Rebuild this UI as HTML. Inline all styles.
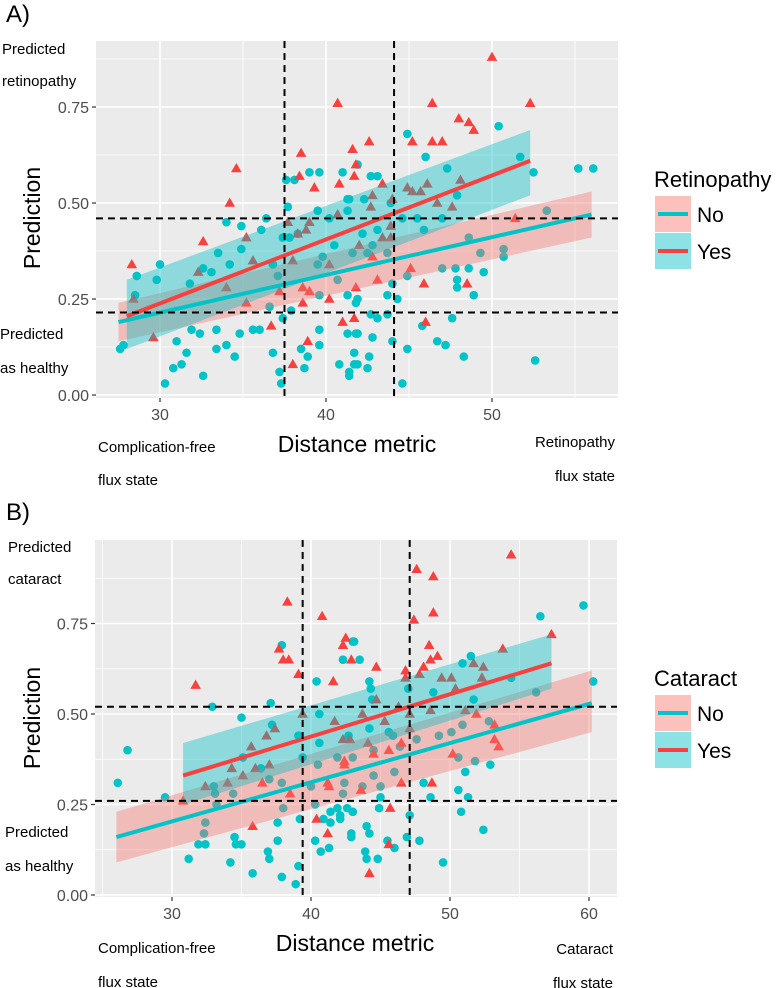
<!DOCTYPE html>
<html><head><meta charset="utf-8"><style>
html,body{margin:0;padding:0;background:#fff;}
svg{display:block;font-family:"Liberation Sans",sans-serif;}
</style></head><body>
<svg id="chart" width="779" height="988" viewBox="0 0 779 988"></svg>
<script>
// ---------- Panel A data (Retinopathy) ----------
const aNoX=[27.6,27.8,28.6,28.5,30.0,29.8,30.3,30.8,31.0,31.3,31.6,31.8,31.9,32.4,32.6,32.6,33.1,33.5,33.4,33.4,34.0,34.0,34.2,34.5,34.8,34.9,34.9,35.6,36.0,36.1,36.4,36.8,36.6,36.8,37.1,37.2,37.3,37.4,37.6,37.7,37.4,37.8,37.9,38.1,38.3,38.5,38.7,38.9,39.0,39.6,39.5,39.5,39.6,39.6,39.6,39.8,40.2,40.5,40.7,40.8,41.0,41.3,41.4,41.7,41.9,41.9,41.6,41.4,41.3,41.9,42.3,42.7,43.1,42.2,42.5,42.8,43.1,43.7,43.9,41.3,41.8,41.3,41.8,42.8,42.7,43.1,43.7,43.7,41.7,41.9,42.5,42.6,41.4,44.0,44.3,44.0,44.6,44.9,44.9,44.6,44.9,45.5,45.9,46.0,45.8,46.7,47.2,47.0,47.0,47.3,47.6,47.8,47.9,47.9,47.9,48.3,48.6,48.6,48.9,49.3,49.5,50.4,50.7,50.7,51.7,52.5,52.6,53.3,55.2,56.1];
const aNoY=[0.12,0.13,0.31,0.26,0.34,0.30,0.03,0.07,0.14,0.08,0.11,0.29,0.17,0.16,0.33,0.05,0.32,0.37,0.17,0.12,0.45,0.13,0.34,0.10,0.16,0.44,0.38,0.17,0.17,0.43,0.46,0.34,0.23,0.11,0.31,0.06,0.03,0.20,0.56,0.49,0.41,0.41,0.22,0.56,0.42,0.12,0.07,0.10,0.58,0.58,0.48,0.34,0.26,0.17,0.13,0.36,0.46,0.39,0.30,0.08,0.58,0.51,0.05,0.08,0.16,0.25,0.37,0.51,0.48,0.60,0.51,0.57,0.57,0.42,0.37,0.39,0.43,0.37,0.50,0.26,0.24,0.16,0.16,0.15,0.21,0.20,0.26,0.21,0.11,0.08,0.07,0.10,0.06,0.14,0.25,0.29,0.03,0.12,0.31,0.46,0.68,0.46,0.43,0.62,0.18,0.14,0.13,0.33,0.46,0.59,0.20,0.33,0.30,0.28,0.52,0.10,0.33,0.41,0.26,0.37,0.32,0.70,0.38,0.36,0.62,0.58,0.09,0.48,0.59,0.59];
const aYesX=[28.3,28.4,29.6,32.3,32.6,34.0,34.2,34.6,35.2,35.2,35.6,36.7,37.2,37.7,38.0,38.0,38.4,38.5,38.3,38.6,38.6,38.8,39.0,38.9,39.0,39.3,40.2,40.2,40.7,40.8,40.7,41.6,41.7,41.0,41.8,41.7,42.6,42.8,42.7,43.4,42.0,42.8,43.4,43.9,43.9,44.0,43.1,41.8,44.9,45.2,45.2,45.7,46.1,45.9,46.0,46.4,46.4,47.0,45.1,46.7,47.6,48.0,48.1,48.6,48.9,48.5,50.0,51.4,52.3];
const aYesY=[0.34,0.25,0.15,0.32,0.40,0.28,0.50,0.59,0.24,0.41,0.35,0.18,0.27,0.45,0.08,0.35,0.57,0.63,0.42,0.24,0.28,0.43,0.45,0.14,0.27,0.54,0.25,0.34,0.76,0.55,0.47,0.64,0.20,0.19,0.60,0.57,0.66,0.52,0.49,0.55,0.39,0.36,0.41,0.41,0.44,0.51,0.30,0.28,0.54,0.66,0.53,0.53,0.55,0.29,0.19,0.76,0.66,0.66,0.33,0.50,0.49,0.72,0.56,0.71,0.69,0.29,0.88,0.46,0.76];
// fitted lines [xStart,xEnd], [yStart,yEnd], ribbon lows/highs
const aNoFitX=[27.5,56.0], aNoFitY=[0.19,0.47], aNoLo=[0.14,0.41], aNoHi=[0.24,0.53];
const aYesFitX=[28.0,52.3], aYesFitY=[0.205,0.61], aYesLo=[0.12,0.52], aYesHi=[0.30,0.69];
const aVLines=[37.5,44.1], aHLines=[0.46,0.215];
const aXTicks=[30,40,50], aXMinor=[35,45,55], aYTicks=[0,0.25,0.5,0.75], aYMinor=[0.125,0.375,0.625,0.875];
const aYTickLabels=["0.00","0.25","0.50","0.75"];

// ---------- Panel B data (Cataract) ----------
const bNoX=[26.1,26.8,29.5,31.2,31.9,32.4,32.3,32.4,33.0,33.1,32.9,33.2,34.2,34.4,34.5,34.6,35.0,35.0,35.1,35.8,36.4,36.9,37.0,37.0,37.1,37.2,37.6,37.6,37.9,37.9,38.0,37.9,38.9,39.1,39.2,39.1,39.4,40.0,40.3,40.3,40.4,40.6,40.6,40.5,40.7,40.9,41.3,41.4,41.4,41.9,41.9,42.1,42.3,42.3,42.4,42.6,42.7,42.9,43.0,43.0,43.1,43.5,44.2,44.3,44.4,44.2,43.0,44.5,45.6,45.9,46.4,44.5,45.0,45.0,44.9,46.0,43.7,43.0,42.1,42.9,44.0,44.2,43.9,44.0,44.8,45.5,46.0,46.9,47.1,47.8,47.0,47.6,48.1,48.6,48.8,49.5,50.6,50.6,50.8,51.1,51.3,50.9,51.5,51.7,51.8,52.4,52.9,54.4,56.2,56.5,59.6,60.3,49.2,50.1,50.9,52.8];
const bNoY=[0.31,0.40,0.27,0.10,0.14,0.14,0.17,0.20,0.30,0.28,0.52,0.25,0.09,0.28,0.16,0.14,0.14,0.49,0.38,0.06,0.35,0.12,0.10,0.32,0.53,0.47,0.20,0.15,0.05,0.69,0.24,0.31,0.03,0.08,0.21,0.44,0.38,0.30,0.25,0.15,0.59,0.50,0.42,0.36,0.12,0.21,0.13,0.23,0.20,0.24,0.38,0.21,0.28,0.65,0.31,0.24,0.44,0.17,0.70,0.23,0.70,0.65,0.59,0.57,0.54,0.46,0.38,0.40,0.45,0.44,0.41,0.33,0.30,0.27,0.24,0.34,0.30,0.23,0.22,0.16,0.19,0.17,0.12,0.10,0.10,0.15,0.13,0.16,0.22,0.15,0.57,0.43,0.31,0.27,0.56,0.09,0.38,0.29,0.23,0.34,0.27,0.64,0.66,0.54,0.37,0.18,0.36,0.60,0.56,0.77,0.80,0.59,0.44,0.45,0.47,0.48];
const bYesX=[30.8,31.7,32.4,34.0,34.3,35.1,35.7,35.8,36.0,36.5,36.8,37.0,37.4,37.7,38.0,38.4,38.3,38.5,39.1,39.4,40.4,40.8,41.2,41.2,41.3,41.6,41.7,42.4,42.3,42.5,42.3,42.9,42.8,47.6,48.8,48.8,47.4,48.5,48.6,49.1,44.7,46.8,48.1,47.8,46.8,49.4,50.1,52.4,52.3,51.7,53.8,54.4,57.3,44.7,43.7,45.3,46.3,47.1,48.6,51.1,51.9,50.4,47.1,46.5,45.6,44.1,44.5,42.4,53.2,53.2,53.5,50.2,46.5,48.7,43.6,45.7,45.6,44.2];
const bYesY=[0.26,0.58,0.30,0.31,0.35,0.33,0.41,0.19,0.35,0.31,0.44,0.36,0.46,0.68,0.65,0.65,0.81,0.28,0.61,0.50,0.21,0.77,0.17,0.31,0.30,0.59,0.48,0.37,0.43,0.71,0.69,0.65,0.43,0.90,0.88,0.78,0.76,0.69,0.65,0.66,0.63,0.62,0.63,0.61,0.60,0.60,0.60,0.63,0.60,0.64,0.68,0.94,0.72,0.54,0.50,0.48,0.52,0.50,0.51,0.51,0.50,0.57,0.46,0.42,0.40,0.42,0.39,0.36,0.47,0.43,0.41,0.39,0.31,0.31,0.29,0.24,0.14,0.06];
const bNoFitX=[26.0,60.2], bNoFitY=[0.16,0.53], bNoLo=[0.09,0.45], bNoHi=[0.23,0.62];
const bYesFitX=[30.8,57.3], bYesFitY=[0.33,0.64], bYesLo=[0.25,0.57], bYesHi=[0.42,0.72];
const bVLines=[39.4,47.1], bHLines=[0.52,0.26];
const bXTicks=[30,40,50,60], bXMinor=[25,35,45,55], bYTicks=[0,0.25,0.5,0.75], bYMinor=[0.125,0.375,0.625,0.875];
const bYTickLabels=["0.00","0.25","0.50","0.75"];

const NS="http://www.w3.org/2000/svg";
const svg=document.getElementById('chart');
const TEAL="#00C4C8", RED="#F8413F";
function mk(tag,attrs,parent){const e=document.createElementNS(NS,tag);for(const k in attrs)e.setAttribute(k,attrs[k]);(parent||svg).appendChild(e);return e;}
function txt(s,x,y,size,attrs,name){const t=mk('text',Object.assign({x:x,y:y,'font-size':size},attrs||{}));t.textContent=s;


return t;}

function panel(o){
  const g=mk('g',{});
  
  
  const sx=v=>o.px0+(v-o.x0)*o.kx;
  const sy=v=>o.py0-(v-0)*o.ky;
  const bg=mk('rect',{x:o.L,y:o.T,width:o.R-o.L,height:o.B-o.T,fill:'#EBEBEB'},g);
  
  
  o.xMinor.forEach(v=>{const l=mk('line',{x1:sx(v),x2:sx(v),y1:o.T,y2:o.B,stroke:'#fff','stroke-width':0.8},g);
    
    });
  o.yMinor.forEach(v=>{const l=mk('line',{x1:o.L,x2:o.R,y1:sy(v),y2:sy(v),stroke:'#fff','stroke-width':0.8},g);
    
    });
  o.xTicks.forEach(v=>{const l=mk('line',{x1:sx(v),x2:sx(v),y1:o.T,y2:o.B,stroke:'#fff','stroke-width':1.6},g);
    
    
    const tk=mk('line',{x1:sx(v),x2:sx(v),y1:o.B,y2:o.B+4,stroke:'#333','stroke-width':1.2},g);
    
    
    txt(String(v),sx(v),o.B+22,16,{fill:'#4D4D4D','text-anchor':'middle'},'x-tick-label');});
  o.yTicks.forEach((v,i)=>{const l=mk('line',{x1:o.L,x2:o.R,y1:sy(v),y2:sy(v),stroke:'#fff','stroke-width':1.6},g);
    
    
    const tk=mk('line',{x1:o.L-4,x2:o.L,y1:sy(v),y2:sy(v),stroke:'#333','stroke-width':1.2},g);
    
    
    txt(o.yLabels[i],o.L-7,sy(v)+6,16,{fill:'#4D4D4D','text-anchor':'end'},'y-tick-label');});
  // points
  o.noX.forEach((x,i)=>{const c=mk('circle',{cx:sx(x),cy:sy(o.noY[i]),r:4.3,fill:TEAL},g);
    
    });
  o.yesX.forEach((x,i)=>{const cx=sx(x),cy=sy(o.yesY[i]);
    const p=mk('polygon',{points:`${cx},${cy-5.5} ${cx-5.3},${cy+3.8} ${cx+5.3},${cy+3.8}`,fill:RED},g);
    
    });
  // ribbons
  function rib(fx,lo,hi,col,name){const p=mk('polygon',{points:`${sx(fx[0])},${sy(lo[0])} ${sx(fx[1])},${sy(lo[1])} ${sx(fx[1])},${sy(hi[1])} ${sx(fx[0])},${sy(hi[0])}`,fill:col,'fill-opacity':0.4},g);
    
    }
  rib(o.noFitX,o.noLo,o.noHi,'#F8766D','ribbon-no');
  rib(o.yesFitX,o.yesLo,o.yesHi,'#00BFC4','ribbon-yes');
  const ln=mk('line',{x1:sx(o.noFitX[0]),y1:sy(o.noFitY[0]),x2:sx(o.noFitX[1]),y2:sy(o.noFitY[1]),stroke:TEAL,'stroke-width':4},g);
  
  
  const ly=mk('line',{x1:sx(o.yesFitX[0]),y1:sy(o.yesFitY[0]),x2:sx(o.yesFitX[1]),y2:sy(o.yesFitY[1]),stroke:RED,'stroke-width':4},g);
  
  
  o.vLines.forEach(v=>{const l=mk('line',{x1:sx(v),x2:sx(v),y1:o.T,y2:o.B,stroke:'#000','stroke-width':2,'stroke-dasharray':'7,5'},g);
    
    });
  o.hLines.forEach(v=>{const l=mk('line',{x1:o.L,x2:o.R,y1:sy(v),y2:sy(v),stroke:'#000','stroke-width':2,'stroke-dasharray':'7,5'},g);
    
    });
}

panel({name:'panel-a',L:96,R:618,T:41,B:398,px0:160,x0:30,kx:16.6,py0:395,ky:384,
  xTicks:aXTicks,xMinor:aXMinor,yTicks:aYTicks,yMinor:aYMinor,yLabels:aYTickLabels,
  noX:aNoX,noY:aNoY,yesX:aYesX,yesY:aYesY,noFitX:aNoFitX,noFitY:aNoFitY,noLo:aNoLo,noHi:aNoHi,
  yesFitX:aYesFitX,yesFitY:aYesFitY,yesLo:aYesLo,yesHi:aYesHi,vLines:aVLines,hLines:aHLines});
panel({name:'panel-b',L:95,R:617,T:540,B:897,px0:172,x0:30,kx:13.9,py0:895,ky:362,
  xTicks:bXTicks,xMinor:bXMinor,yTicks:bYTicks,yMinor:bYMinor,yLabels:bYTickLabels,
  noX:bNoX,noY:bNoY,yesX:bYesX,yesY:bYesY,noFitX:bNoFitX,noFitY:bNoFitY,noLo:bNoLo,noHi:bNoHi,
  yesFitX:bYesFitX,yesFitY:bYesFitY,yesLo:bYesLo,yesHi:bYesHi,vLines:bVLines,hLines:bHLines});

// text labels
txt("A)",6,22,24,{},'panel-a-label');
txt("Predicted",2,54,15,{},'annot-predicted-retinopathy');
txt("retinopathy",2,86,15,{},'annot-predicted-retinopathy-2');
txt("Predicted",0,339,15,{},'annot-predicted-healthy');
txt("as healthy",0,373,15,{},'annot-predicted-healthy-2');
txt("Prediction",40,218,23,{transform:'rotate(-90 40 218)','text-anchor':'middle'},'y-axis-title');
txt("Distance metric",357,452,23,{'text-anchor':'middle'},'x-axis-title');
txt("Complication-free",98,452,15,{},'annot-complication-free');
txt("flux state",98,485,15,{},'annot-flux-state-left');
txt("Retinopathy",615,447,15,{'text-anchor':'end'},'annot-retinopathy-flux');
txt("flux state",615,481,15,{'text-anchor':'end'},'annot-flux-state-right');

txt("B)",6,520,24,{},'panel-b-label');
txt("Predicted",8,552,15,{},'annot-predicted-cataract');
txt("cataract",8,584,15,{},'annot-predicted-cataract-2');
txt("Predicted",5,837,15,{},'annot-predicted-healthy-b');
txt("as healthy",5,871,15,{},'annot-predicted-healthy-b-2');
txt("Prediction",40,718,23,{transform:'rotate(-90 40 718)','text-anchor':'middle'},'y-axis-title-b');
txt("Distance metric",355,951,23,{'text-anchor':'middle'},'x-axis-title-b');
txt("Complication-free",98,953,15,{},'annot-complication-free-b');
txt("flux state",98,987,15,{},'annot-flux-state-left-b');
txt("Cataract",613,954,15,{'text-anchor':'end'},'annot-cataract-flux');
txt("flux state",613,988,15,{'text-anchor':'end'},'annot-flux-state-right-b');

// legends
const legendNames=["No","Yes"];
function legend(title,ty,name){
  const g=mk('g',{});
  
  
  txt(title,654,ty,22,{},'legend-title');
  legendNames.forEach((n,i)=>{const y0=ty+9+i*37;
    const r=mk('rect',{x:655,y:y0,width:36,height:36,fill:i===0?'#F8766D':'#00BFC4','fill-opacity':0.45},g);
    
    
    const l=mk('line',{x1:658,x2:688,y1:y0+18,y2:y0+18,stroke:i===0?TEAL:RED,'stroke-width':4},g);
    
    
    txt(n,697,y0+26,21,{},'legend-entry-'+n.toLowerCase());});
}
legend("Retinopathy",187,'legend-retinopathy');
legend("Cataract",686,'legend-cataract');
</script>
</body></html>
